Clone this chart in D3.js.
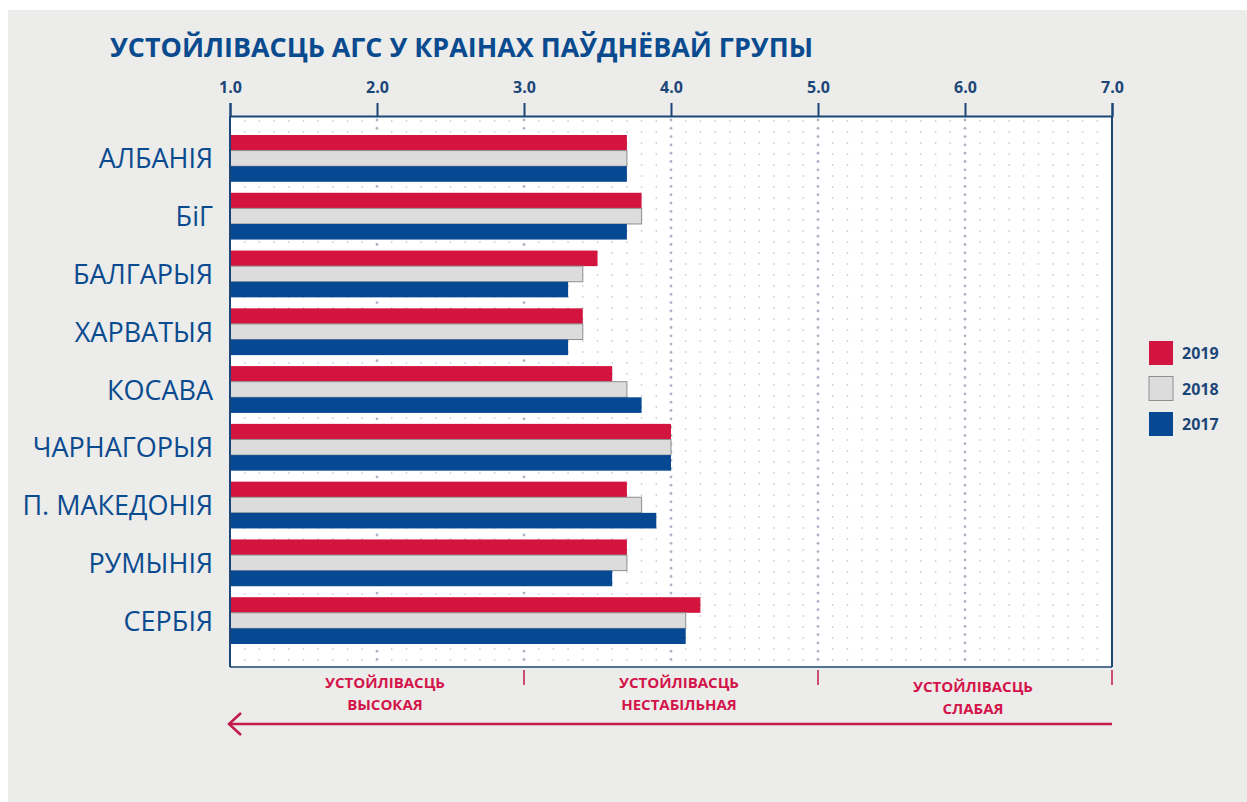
<!DOCTYPE html>
<html>
<head>
<meta charset="utf-8">
<script src="https://cdn.jsdelivr.net/npm/d3@7"></script>
<style>
  body { margin: 0; background: #fff; }
  svg { display: block; }
</style>
</head>
<body>
<svg id="chart"></svg>
<script>
// data
var countries = ['АЛБАНІЯ', 'БіГ', 'БАЛГАРЫЯ', 'ХАРВАТЫЯ', 'КОСАВА', 'ЧАРНАГОРЫЯ', 'П. МАКЕДОНІЯ', 'РУМЫНІЯ', 'СЕРБІЯ']
var years = ['2019', '2018', '2017']
var v2019 = [3.7, 3.8, 3.5, 3.4, 3.6, 4.0, 3.7, 3.7, 4.2]
var v2018 = [3.7, 3.8, 3.4, 3.4, 3.7, 4.0, 3.8, 3.7, 4.1]
var v2017 = [3.7, 3.7, 3.3, 3.3, 3.8, 4.0, 3.9, 3.6, 4.1]
var xTicks = [1, 2, 3, 4, 5, 6, 7]
var zones = [['УСТОЙЛІВАСЦЬ', 'ВЫСОКАЯ'], ['УСТОЙЛІВАСЦЬ', 'НЕСТАБІЛЬНАЯ'], ['УСТОЙЛІВАСЦЬ', 'СЛАБАЯ']]
var zoneBounds = [1, 3, 5, 7]
var title = 'УСТОЙЛІВАСЦЬ АГС У КРАІНАХ ПАЎДНЁВАЙ ГРУПЫ'

var W = 1247, H = 802
var pL = 230, pR = 1112, pT = 116, pB = 667
var navy = '#1c4677', blue = '#0a4a8f', red = '#d3143f', grey = '#dcdcdc'
var colors = { '2019': red, '2018': grey, '2017': '#064892' }
var series = { '2019': v2019, '2018': v2018, '2017': v2017 }

var svg = d3.select('#chart').attr('width', W).attr('height', H)

// grey panel
svg.append('rect').attr('x', 8).attr('y', 10).attr('width', W - 8).attr('height', H - 10).attr('fill', '#ececea')

var x = d3.scaleLinear().domain([1, 7]).range([pL, pR])
var y = d3.scaleBand().domain(countries).range([135, 644]).paddingInner(0.19)
var yy = d3.scaleBand().domain(years).range([0, y.bandwidth()])

// plot area
svg.append('rect').attr('x', pL).attr('y', pT).attr('width', pR - pL).attr('height', pB - pT).attr('fill', '#fff')

// dotted grid
var dots = svg.append('g').attr('class', 'dots')
var minor = d3.range(1.1, 7, 0.1).filter(function (d) { return Math.abs(d - Math.round(d)) > 0.01 })
var rows = d3.range(pT + 5, pB, 11)
minor.forEach(function (v) {
  rows.forEach(function (r) {
    dots.append('circle').attr('cx', x(v)).attr('cy', r).attr('r', 0.9).attr('fill', '#ccd3dc')
  })
})
d3.range(2, 7).forEach(function (v) {
  d3.range(pT + 4, pB, 8.3).forEach(function (r) {
    dots.append('circle').attr('cx', x(v)).attr('cy', r).attr('r', 1.4).attr('fill', '#aab4c4')
  })
})

// bars
var groups = svg.append('g').selectAll('g').data(countries).enter().append('g')
  .attr('transform', function (d) { return 'translate(0,' + y(d) + ')' })
groups.selectAll('rect').data(function (d, i) {
  return years.map(function (yr) { return { year: yr, value: series[yr][i] } })
}).enter().append('rect')
  .attr('x', x(1))
  .attr('y', function (d) { return yy(d.year) })
  .attr('width', function (d) { return x(d.value) - x(1) })
  .attr('height', yy.bandwidth())
  .attr('fill', function (d) { return colors[d.year] })
  .attr('stroke', function (d) { return d.year === '2018' ? '#8f8f8f' : 'none' })
  .attr('stroke-width', 1)

// country labels
svg.append('g').selectAll('text').data(countries).enter().append('text')
  .attr('x', 213)
  .attr('y', function (d) { return y(d) + y.bandwidth() / 2 + 10 })
  .attr('text-anchor', 'end')
  .attr('font-family', 'Open Sans, sans-serif')
  .attr('font-size', 27)
  .attr('fill', blue)
  .text(function (d) { return d })

// top axis
var axis = svg.append('g').attr('transform', 'translate(0,' + pT + ')')
  .call(d3.axisTop(x).tickValues(xTicks).tickSize(13).tickPadding(10).tickFormat(d3.format('.1f')))
axis.select('.domain').attr('stroke', navy).attr('stroke-width', 2)
axis.selectAll('.tick line').attr('stroke', navy).attr('stroke-width', 2)
axis.selectAll('.tick text').attr('fill', navy).attr('font-family', 'Open Sans, sans-serif')
  .attr('font-weight', 700).attr('font-size', 16)

// frame
svg.append('line').attr('x1', pL).attr('x2', pL).attr('y1', pT).attr('y2', pB).attr('stroke', navy).attr('stroke-width', 2)
svg.append('line').attr('x1', pR).attr('x2', pR).attr('y1', pT).attr('y2', pB).attr('stroke', navy).attr('stroke-width', 2)
svg.append('line').attr('x1', pL).attr('x2', pR).attr('y1', pB).attr('y2', pB).attr('stroke', navy).attr('stroke-width', 1.5)

// title
svg.append('text').attr('x', 110).attr('y', 57)
  .attr('font-family', 'Open Sans, sans-serif').attr('font-weight', 700).attr('font-size', 27)
  .attr('fill', blue).attr('textLength', 703).attr('lengthAdjust', 'spacingAndGlyphs')
  .text(title)

// legend
var leg = svg.append('g').selectAll('g').data(years).enter().append('g')
  .attr('transform', function (d, i) { return 'translate(1149,' + (341 + i * 35.5) + ')' })
leg.append('rect').attr('width', 24).attr('height', 24)
  .attr('fill', function (d) { return colors[d] })
  .attr('stroke', function (d) { return d === '2018' ? '#8f8f8f' : 'none' })
leg.append('text').attr('x', 33).attr('y', 18)
  .attr('font-family', 'Open Sans, sans-serif').attr('font-weight', 700).attr('font-size', 16)
  .attr('fill', navy).text(function (d) { return d })

// zone ticks below the plot
svg.append('g').selectAll('line').data(zoneBounds.slice(1)).enter().append('line')
  .attr('x1', function (d) { return x(d) }).attr('x2', function (d) { return x(d) })
  .attr('y1', pB + 3).attr('y2', pB + 18)
  .attr('stroke', '#c21b4a').attr('stroke-width', 1.5)

// zone labels
var zl = svg.append('g').selectAll('text').data(zones).enter().append('text')
  .attr('text-anchor', 'middle')
  .attr('font-family', 'Open Sans, sans-serif').attr('font-weight', 700).attr('font-size', 15)
  .attr('fill', '#d3144a')
zl.each(function (d, i) {
  var cx = (x(zoneBounds[i]) + x(zoneBounds[i + 1])) / 2 + 8
  var y0 = i === 2 ? 692 : 688
  var t = d3.select(this)
  t.append('tspan').attr('x', cx).attr('y', y0).text(d[0])
  t.append('tspan').attr('x', cx).attr('y', y0 + 22).text(d[1])
})

// arrow
svg.append('line').attr('x1', 229).attr('x2', pR).attr('y1', 724).attr('y2', 724)
  .attr('stroke', '#c21b4a').attr('stroke-width', 2.5)
svg.append('path').attr('d', 'M241,713 L229,724 L241,735')
  .attr('fill', 'none').attr('stroke', '#c21b4a').attr('stroke-width', 2.5)
</script>
</body>
</html>
